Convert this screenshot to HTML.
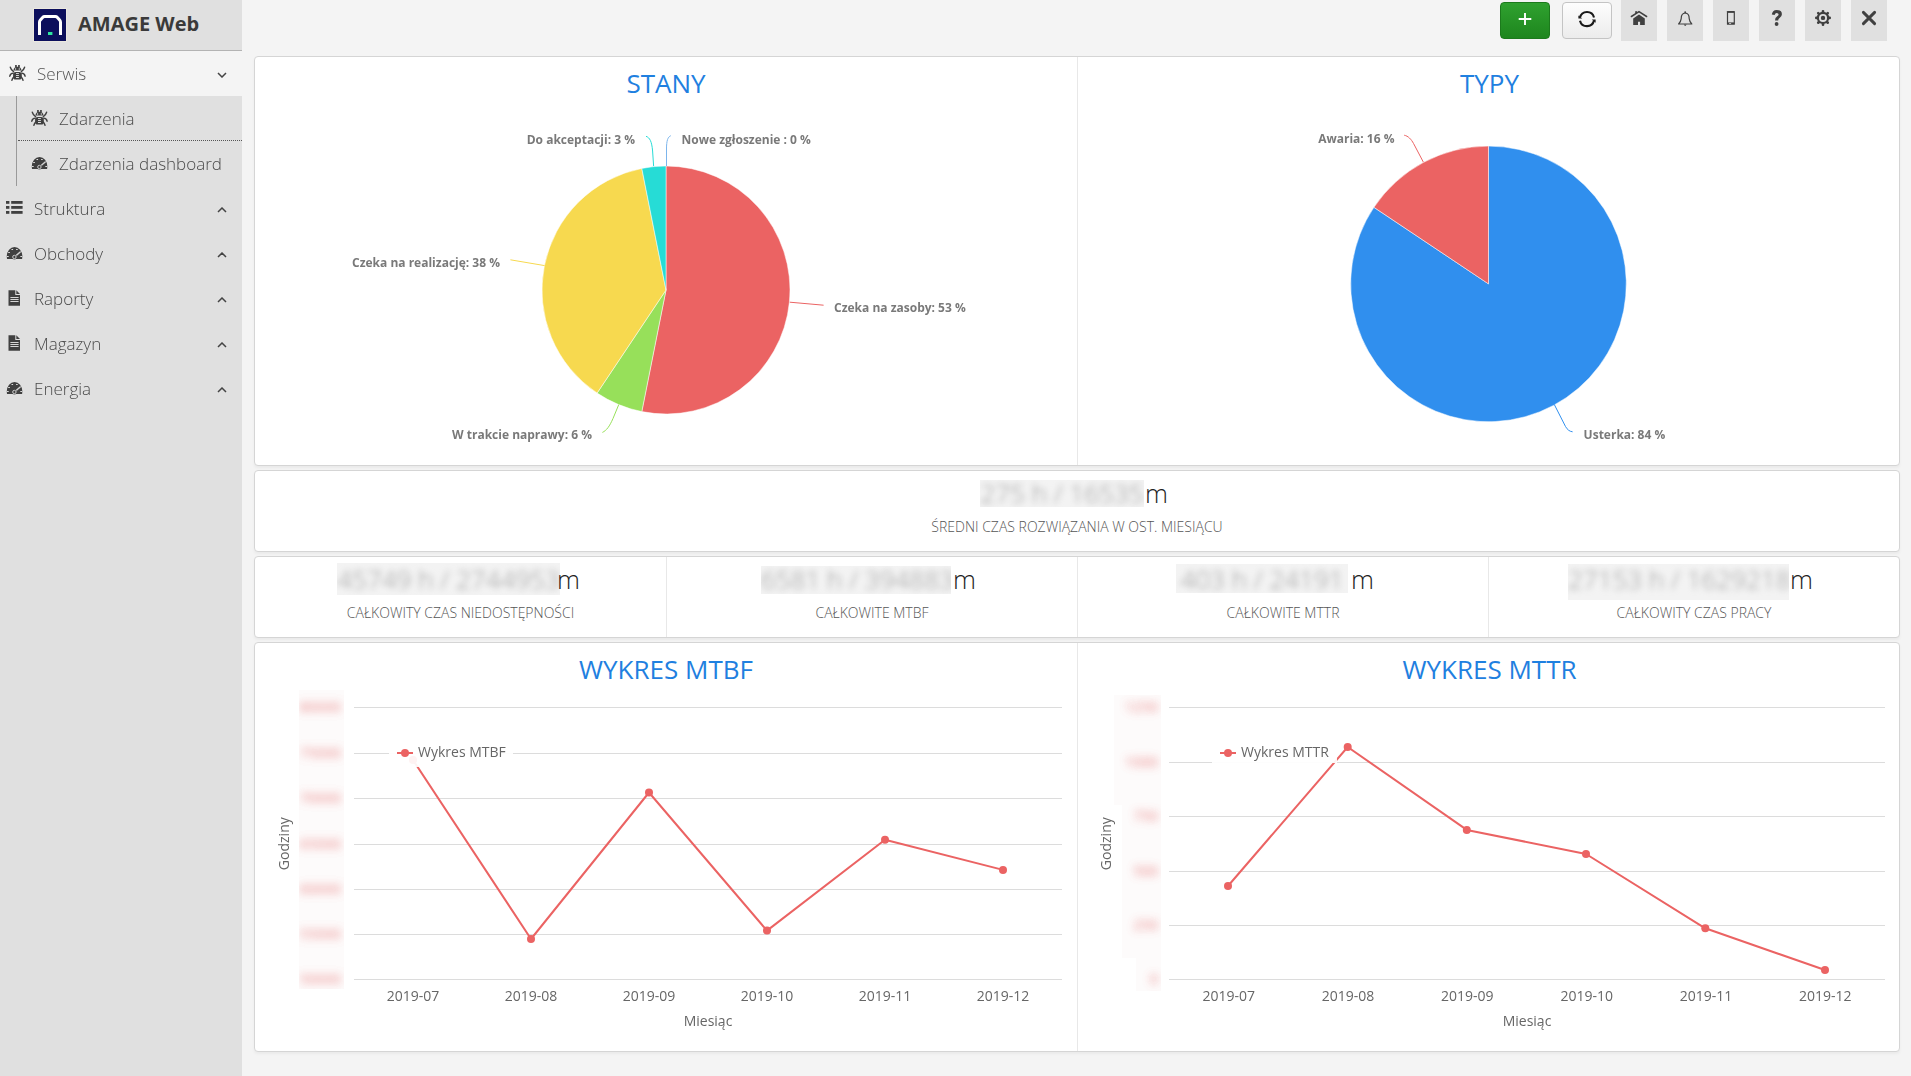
<!DOCTYPE html>
<html lang="pl">
<head>
<meta charset="utf-8">
<title>AMAGE Web - Zdarzenia dashboard</title>
<style>
*{box-sizing:border-box;margin:0;padding:0}
html,body{width:1911px;height:1076px;overflow:hidden}
body{background:#f4f4f4;font-family:"Open Sans","Liberation Sans",sans-serif;color:#333;position:relative}
.abs{position:absolute}
#side{position:absolute;left:0;top:0;width:242px;height:1076px;background:#e0e0e0}
#logo{position:absolute;left:34px;top:9px;width:32px;height:32px;background:#0c0f5c;outline:1px solid #ebe8df}
#brand{position:absolute;left:78px;top:9px;font-size:20px;font-weight:700;color:#3a3a3a;line-height:30px;white-space:nowrap}
#hdrline{position:absolute;left:0;top:50px;width:242px;height:1px;background:#b3b3b3}
#serwis{position:absolute;left:0;top:51px;width:242px;height:45px;background:#f4f4f4}
#subline{position:absolute;left:16px;top:96px;width:1px;height:90px;background:#9a9a9a}
#dots{position:absolute;left:18px;top:140px;width:224px;height:0;border-top:1px dotted #555}
.mi{position:absolute;font-size:17px;font-weight:300;color:#4a4a4a;white-space:nowrap;line-height:24px;will-change:transform}
.ic{position:absolute}
.chev{position:absolute;left:217px;width:10px;height:6px}
/* top buttons */
.gbtn{position:absolute;top:0;width:36px;height:41px;background:#e0e0e0}
#plus{position:absolute;left:1500px;top:2px;width:50px;height:37px;border-radius:4px;background:linear-gradient(#2fa12f,#1e861e);border:1px solid #1c7a1c}
#refr{position:absolute;left:1562px;top:2px;width:50px;height:37px;border-radius:4px;background:linear-gradient(#fdfdfd,#ececec);border:1px solid #c4c4c4}
/* panels */
.pnl{position:absolute;left:254px;width:1646px;background:#fff;border:1px solid #d5d5d5;border-radius:4px;box-shadow:0 2px 3px rgba(0,0,0,.045)}
.vdiv{position:absolute;width:1px;background:#e8e8e8}
.ttl{position:absolute;font-size:26px;color:#1f80e0;white-space:nowrap;line-height:30px;text-align:center}
.lbl{position:absolute;font-size:14px;font-weight:300;color:#555;white-space:nowrap;text-align:center;line-height:20px}
.bb{position:absolute;background:#f3f3f3;overflow:hidden;text-align:center;white-space:nowrap}
.bb span{position:absolute;left:0;right:0;line-height:32px;font-size:26px;font-weight:300;color:#9c9c9c;filter:blur(3.4px)}
.um{position:absolute;font-size:26px;font-weight:300;color:#222;line-height:34px;height:34px;white-space:nowrap}
</style>
</head>
<body>
<!-- SIDEBAR -->
<div id="side">
  <div id="logo">
    <svg width="32" height="32" viewBox="0 0 32 32" style="display:block">
      <path d="M5.5 26 V13.2 Q5.5 12 6.4 10.9 L8.6 8.4 Q9.4 7.5 10.6 7.5 H21.4 Q22.6 7.5 23.4 8.4 L25.6 10.9 Q26.5 12 26.5 13.2 V26" fill="none" stroke="#fff" stroke-width="3"/>
      <rect x="14" y="23" width="4.4" height="3" fill="#2ee6a0"/>
    </svg>
  </div>
  <div id="brand">AMAGE Web</div>
  <div id="hdrline"></div>
  <div id="serwis"></div>
  <div id="subline"></div>
  <div id="dots"></div>

  <!-- icons -->
  <svg class="ic" style="left:9px;top:65px" width="17" height="16" viewBox="0 0 17 16"><use href="#i-bug"/></svg>
  <div class="mi" style="left:37px;top:62px;color:#555">Serwis</div>
  <svg class="chev" style="top:72px" viewBox="0 0 10 6"><path d="M1 1 L5 5 L9 1" fill="none" stroke="#444" stroke-width="1.5"/></svg>

  <svg class="ic" style="left:31px;top:110px" width="17" height="16" viewBox="0 0 17 16"><use href="#i-bug"/></svg>
  <div class="mi" style="left:59px;top:107px">Zdarzenia</div>

  <svg class="ic" style="left:31px;top:156px" width="17" height="14" viewBox="0 0 17 14"><use href="#i-tach"/></svg>
  <div class="mi" style="left:59px;top:152px">Zdarzenia dashboard</div>

  <svg class="ic" style="left:6px;top:201px" width="17" height="13" viewBox="0 0 17 13"><use href="#i-list"/></svg>
  <div class="mi" style="left:34px;top:197px">Struktura</div>
  <svg class="chev" style="top:207px" viewBox="0 0 10 6"><path d="M1 5 L5 1 L9 5" fill="none" stroke="#444" stroke-width="1.5"/></svg>

  <svg class="ic" style="left:6px;top:246px" width="17" height="14" viewBox="0 0 17 14"><use href="#i-tach"/></svg>
  <div class="mi" style="left:34px;top:242px">Obchody</div>
  <svg class="chev" style="top:252px" viewBox="0 0 10 6"><path d="M1 5 L5 1 L9 5" fill="none" stroke="#444" stroke-width="1.5"/></svg>

  <svg class="ic" style="left:8px;top:290px" width="13" height="16" viewBox="0 0 13 16"><use href="#i-file"/></svg>
  <div class="mi" style="left:34px;top:287px">Raporty</div>
  <svg class="chev" style="top:297px" viewBox="0 0 10 6"><path d="M1 5 L5 1 L9 5" fill="none" stroke="#444" stroke-width="1.5"/></svg>

  <svg class="ic" style="left:8px;top:335px" width="13" height="16" viewBox="0 0 13 16"><use href="#i-file"/></svg>
  <div class="mi" style="left:34px;top:332px">Magazyn</div>
  <svg class="chev" style="top:342px" viewBox="0 0 10 6"><path d="M1 5 L5 1 L9 5" fill="none" stroke="#444" stroke-width="1.5"/></svg>

  <svg class="ic" style="left:6px;top:381px" width="17" height="14" viewBox="0 0 17 14"><use href="#i-tach"/></svg>
  <div class="mi" style="left:34px;top:377px">Energia</div>
  <svg class="chev" style="top:387px" viewBox="0 0 10 6"><path d="M1 5 L5 1 L9 5" fill="none" stroke="#444" stroke-width="1.5"/></svg>
</div>

<!-- icon defs -->
<svg width="0" height="0" style="position:absolute">
  <defs>
    <g id="i-bug" fill="#404040">
      <rect x="6.1" y="0" width="1.7" height="2.4"/><rect x="9.1" y="0" width="1.7" height="2.4"/>
      <path d="M4.4 5.6 Q4.6 1.8 8.45 1.8 Q12.3 1.8 12.5 5.6 Z"/>
      <rect x="4.1" y="7" width="8.7" height="7.5" rx="2.6"/>
      <g fill="#f2f2f2"><rect x="6.2" y="3.3" width="0.9" height="1.4"/><rect x="9.8" y="3.3" width="0.9" height="1.4"/>
      <rect x="7" y="8.1" width="2.9" height="0.8"/><rect x="7" y="10.2" width="2.9" height="0.8"/><rect x="7" y="12.1" width="2.9" height="0.9"/></g>
      <g fill="none" stroke="#404040" stroke-width="1.4" stroke-linecap="round">
        <path d="M1.3 2.2 Q2.2 5.2 4.6 6.6"/><path d="M15.6 2.2 Q14.7 5.2 12.3 6.6"/>
        <path d="M0.8 11.2 Q1.3 8.2 4.3 8.1"/><path d="M16.1 11.2 Q15.6 8.2 12.6 8.1"/>
        <path d="M2.9 15.3 Q3.5 13.2 4.7 12.1"/><path d="M14 15.3 Q13.4 13.2 12.2 12.1"/>
      </g>
    </g>
    <g id="i-tach">
      <path d="M1 13 L0.75 10.5 A7.8 9.6 0 0 1 16.35 10.5 L16.1 13 Z" fill="#404040"/>
      <g fill="#dedede">
        <rect x="5.5" y="3" width="1.6" height="1"/><rect x="10.1" y="3" width="1.6" height="1"/>
        <rect x="2.2" y="6" width="1.7" height="1"/><rect x="0.9" y="10" width="1.8" height="1"/><rect x="14.3" y="10" width="1.8" height="1"/>
      </g>
      <path d="M9.3 10.3 L14.2 6" stroke="#d2d2d2" stroke-width="1.5" stroke-linecap="round"/>
      <circle cx="8.4" cy="11" r="2.5" fill="#404040"/>
      <circle cx="8.4" cy="11" r="1.7" fill="none" stroke="#cfcfcf" stroke-width="1"/>
    </g>
    <g id="i-list" fill="#404040">
      <rect x="0" y="0" width="3.4" height="2.8"/><rect x="5.2" y="0" width="11.4" height="2.8"/>
      <rect x="0" y="5" width="3.4" height="2.8"/><rect x="5.2" y="5" width="11.4" height="2.8"/>
      <rect x="0" y="10" width="3.4" height="2.8"/><rect x="5.2" y="10" width="11.4" height="2.8"/>
    </g>
    <g id="i-file">
      <path d="M0.5 0.3 H7.3 V5 H12 V15.7 H0.5 Z" fill="#404040"/>
      <path d="M8.3 0.3 L12 4 H8.3 Z" fill="#404040"/>
      <g fill="#e8e8e8"><rect x="2.4" y="7" width="8.2" height="0.9"/><rect x="2.4" y="9" width="8.2" height="0.9"/><rect x="2.4" y="11" width="8.2" height="0.9"/></g>
    </g>
  </defs>
</svg>

<!-- TOP BUTTONS -->
<div id="plus"><svg width="48" height="35" viewBox="0 0 48 35" style="display:block"><path d="M24 9.9 V22.1 M17.7 16 H30.3" stroke="#fff" stroke-width="1.9"/></svg></div>
<div id="refr"><svg width="48" height="35" viewBox="0 0 48 35" style="display:block">
  <path d="M17 14.6 A7.2 7.2 0 0 1 31 14.4" fill="none" stroke="#1a1a1a" stroke-width="2.1"/>
  <path d="M31 17.6 A7.2 7.2 0 0 1 17 17.7" fill="none" stroke="#1a1a1a" stroke-width="2.1"/>
  <path d="M15.4 12.4 L19.2 15.6 H15.4 Z" fill="#1a1a1a"/><path d="M32.6 19.8 L28.8 16.6 H32.6 Z" fill="#1a1a1a"/>
</svg></div>
<div class="gbtn" style="left:1621px"><svg width="36" height="41" viewBox="0 0 36 41" style="display:block">
  <path d="M10.4 16.5 L18 11.6 L25.6 16.5" fill="none" stroke="#404040" stroke-width="1.5" stroke-linecap="round"/>
  <rect x="14.2" y="11.2" width="1.8" height="2.8" fill="#404040"/>
  <path d="M12.2 18.4 L18 14.5 L23.8 18.4 V24.9 H19.1 V21.7 H17 V24.9 H12.2 Z" fill="#404040"/>
</svg></div>
<div class="gbtn" style="left:1667px"><svg width="36" height="41" viewBox="0 0 36 41" style="display:block">
  <path d="M11.6 24 Q13.8 22 14.2 18.6 Q14.2 13.2 18.2 13 Q22.2 13.2 22.2 18.6 Q22.6 22 24.8 24 Z" fill="none" stroke="#404040" stroke-width="1.2" stroke-linejoin="round"/>
  <path d="M16.8 24.6 Q18.2 27.4 19.6 24.6 Z" fill="#404040"/><circle cx="18.2" cy="12.2" r="0.9" fill="#404040"/>
</svg></div>
<div class="gbtn" style="left:1713px"><svg width="36" height="41" viewBox="0 0 36 41" style="display:block">
  <rect x="13.9" y="10.9" width="8" height="13.9" rx="0.6" fill="#404040"/><rect x="15.1" y="12.9" width="5.6" height="9.5" fill="#e0e0e0"/>
  <rect x="16.1" y="23.1" width="2" height="0.8" fill="#e0e0e0"/>
</svg></div>
<div class="gbtn" style="left:1759px"><svg width="36" height="41" viewBox="0 0 36 41" style="display:block">
  <path d="M12.8 14.6 Q13.4 9.9 17.6 9.9 Q22.9 9.9 22.9 14.3 Q22.9 16.6 20.6 18 Q19.2 18.9 19.2 20.4 H16 Q16 17.6 18 16.4 Q19.6 15.5 19.6 14.4 Q19.6 12.9 17.7 12.9 Q16.1 12.9 15.6 15 Z" fill="#404040"/>
  <circle cx="17.6" cy="24" r="1.9" fill="#404040"/>
</svg></div>
<div class="gbtn" style="left:1805px"><svg width="36" height="41" viewBox="0 0 36 41" style="display:block">
  <g transform="translate(18 17.9)"><g fill="#404040">
    <circle r="6.2"/>
    <rect x="-1.3" y="-8" width="2.6" height="16" rx="1.2"/>
    <rect x="-1.3" y="-8" width="2.6" height="16" rx="1.2" transform="rotate(45)"/>
    <rect x="-1.3" y="-8" width="2.6" height="16" rx="1.2" transform="rotate(90)"/>
    <rect x="-1.3" y="-8" width="2.6" height="16" rx="1.2" transform="rotate(135)"/>
  </g><circle r="4" fill="#e0e0e0"/><circle r="2.2" fill="#404040"/></g>
</svg></div>
<div class="gbtn" style="left:1851px"><svg width="36" height="41" viewBox="0 0 36 41" style="display:block">
  <path d="M12.4 12.4 L23.6 23.6 M23.6 12.4 L12.4 23.6" stroke="#404040" stroke-width="2.9" stroke-linecap="round"/>
</svg></div>

<!-- PANELS -->
<div class="pnl" style="top:56px;height:410px"></div>
<div class="vdiv" style="left:1077px;top:57px;height:408px"></div>
<div class="pnl" style="top:470px;height:82px"></div>
<div class="pnl" style="top:556px;height:82px"></div>
<div class="vdiv" style="left:666px;top:557px;height:80px"></div>
<div class="vdiv" style="left:1077px;top:557px;height:80px"></div>
<div class="vdiv" style="left:1488px;top:557px;height:80px"></div>
<div class="pnl" style="top:642px;height:410px"></div>
<div class="vdiv" style="left:1077px;top:643px;height:408px"></div>

<!-- TITLES -->
<div class="ttl" style="left:255px;width:822px;top:68px">STANY</div>
<div class="ttl" style="left:1079px;width:821px;top:68px">TYPY</div>
<div class="ttl" style="left:255px;width:822px;top:654px">WYKRES MTBF</div>
<div class="ttl" style="left:1079px;width:821px;top:654px">WYKRES MTTR</div>

<!-- METRICS -->
<div class="bb" style="left:980px;top:480px;width:164px;height:27px"><span style="top:-3px">275 h / 16535</span></div>
<div class="um" style="left:1145px;top:476px">m</div>
<div class="lbl" style="left:255px;width:1644px;top:517px">ŚREDNI CZAS ROZWIĄZANIA W OST. MIESIĄCU</div>
<div class="bb" style="left:337px;top:563px;width:223px;height:32px"><span style="top:0px">45749 h / 2744953</span></div>
<div class="um" style="left:557px;top:562px">m</div>
<div class="lbl" style="left:255px;width:411px;top:603px">CAŁKOWITY CZAS NIEDOSTĘPNOŚCI</div>
<div class="bb" style="left:761px;top:566px;width:190px;height:28px"><span style="top:-3px">6581 h / 394883</span></div>
<div class="um" style="left:953px;top:562px">m</div>
<div class="lbl" style="left:667px;width:410px;top:603px">CAŁKOWITE MTBF</div>
<div class="bb" style="left:1176px;top:564px;width:172px;height:29px"><span style="top:-1px">403 h / 24191</span></div>
<div class="um" style="left:1351px;top:562px">m</div>
<div class="lbl" style="left:1078px;width:410px;top:603px">CAŁKOWITE MTTR</div>
<div class="bb" style="left:1568px;top:564px;width:221px;height:36px"><span style="top:-1px">27153 h / 1629218</span></div>
<div class="um" style="left:1790px;top:562px">m</div>
<div class="lbl" style="left:1489px;width:410px;top:603px">CAŁKOWITY CZAS PRACY</div>

<!-- CHARTS -->
<svg id="charts" class="abs" style="left:0;top:0" width="1911" height="1076" viewBox="0 0 1911 1076">
<defs><filter id="blr" x="-30%" y="-60%" width="160%" height="220%"><feGaussianBlur stdDeviation="4.2"/></filter></defs>
<path d="M666.00 290.00 L666.00 166.00 A124 124 0 1 1 641.81 411.62 Z" fill="#eb6363" stroke="#fff" stroke-width="0.5" stroke-linejoin="round"/>
<path d="M666.00 290.00 L641.81 411.62 A124 124 0 0 1 597.11 393.10 Z" fill="#97e05a" stroke="#fff" stroke-width="0.5" stroke-linejoin="round"/>
<path d="M666.00 290.00 L597.11 393.10 A124 124 0 0 1 641.81 168.38 Z" fill="#f7d94f" stroke="#fff" stroke-width="0.5" stroke-linejoin="round"/>
<path d="M666.00 290.00 L641.81 168.38 A124 124 0 0 1 666.00 166.00 Z" fill="#26dcd6" stroke="#fff" stroke-width="0.5" stroke-linejoin="round"/>
<path d="M653.6 166 L652.6 151 C651.8 141.5 649.8 137.6 646 136.3" fill="none" stroke="#26dcd6" stroke-width="1"/>
<path d="M666.5 166 L666.5 149 C666.5 140.5 667.8 137 670.8 135.7" fill="none" stroke="#7cb5ec" stroke-width="1"/>
<path d="M544.6 265.6 L510.4 259.8" fill="none" stroke="#f7d94f" stroke-width="1"/>
<path d="M789.8 302.2 L823.6 305.2" fill="none" stroke="#eb6363" stroke-width="1"/>
<path d="M618.8 404.5 L613 418.5 C609.5 426.5 606.5 430.5 602.4 432.4" fill="none" stroke="#97e05a" stroke-width="1"/>
<text x="635" y="144" text-anchor="end" font-family="Open Sans, Liberation Sans, sans-serif" font-size="12" font-weight="700" fill="#797979">Do akceptacji: 3 %</text>
<text x="681.5" y="143.5" font-family="Open Sans, Liberation Sans, sans-serif" font-size="12" font-weight="700" fill="#797979">Nowe zgłoszenie : 0 %</text>
<text x="500" y="267" text-anchor="end" font-family="Open Sans, Liberation Sans, sans-serif" font-size="12" font-weight="700" fill="#797979">Czeka na realizację: 38 %</text>
<text x="834" y="312" font-family="Open Sans, Liberation Sans, sans-serif" font-size="12" font-weight="700" fill="#797979">Czeka na zasoby: 53 %</text>
<text x="592" y="439.3" text-anchor="end" font-family="Open Sans, Liberation Sans, sans-serif" font-size="12" font-weight="700" fill="#797979">W trakcie naprawy: 6 %</text>
<path d="M1488.50 283.90 L1488.50 146.10 A137.8 137.8 0 1 1 1373.92 207.34 Z" fill="#308fee" stroke="#fff" stroke-width="0.5" stroke-linejoin="round"/>
<path d="M1488.50 283.90 L1373.92 207.34 A137.8 137.8 0 0 1 1488.50 146.10 Z" fill="#eb6363" stroke="#fff" stroke-width="0.5" stroke-linejoin="round"/>
<path d="M1423.3 162 L1413.6 143.6 C1411.2 139.2 1408.2 136 1404.2 135.2" fill="none" stroke="#eb6363" stroke-width="1"/>
<path d="M1554.2 404.3 L1565.5 426.5 C1567.5 430 1569.8 431.5 1572.6 431.8" fill="none" stroke="#308fee" stroke-width="1"/>
<text x="1394.5" y="142.8" text-anchor="end" font-family="Open Sans, Liberation Sans, sans-serif" font-size="12" font-weight="700" fill="#797979">Awaria: 16 %</text>
<text x="1583.6" y="438.5" font-family="Open Sans, Liberation Sans, sans-serif" font-size="12" font-weight="700" fill="#797979">Usterka: 84 %</text>
<path d="M354 707.5 H1062" stroke="#dcdcdc" stroke-width="1"/>
<path d="M354 753.5 H1062" stroke="#dcdcdc" stroke-width="1"/>
<path d="M354 798.5 H1062" stroke="#dcdcdc" stroke-width="1"/>
<path d="M354 844.5 H1062" stroke="#dcdcdc" stroke-width="1"/>
<path d="M354 889.5 H1062" stroke="#dcdcdc" stroke-width="1"/>
<path d="M354 934.5 H1062" stroke="#dcdcdc" stroke-width="1"/>
<path d="M354 979.5 H1062" stroke="#dcdcdc" stroke-width="1"/>
<text x="413.0" y="1001" text-anchor="middle" font-family="Open Sans, Liberation Sans, sans-serif" font-size="14" fill="#666">2019-07</text>
<text x="531.0" y="1001" text-anchor="middle" font-family="Open Sans, Liberation Sans, sans-serif" font-size="14" fill="#666">2019-08</text>
<text x="649.0" y="1001" text-anchor="middle" font-family="Open Sans, Liberation Sans, sans-serif" font-size="14" fill="#666">2019-09</text>
<text x="767.0" y="1001" text-anchor="middle" font-family="Open Sans, Liberation Sans, sans-serif" font-size="14" fill="#666">2019-10</text>
<text x="885.0" y="1001" text-anchor="middle" font-family="Open Sans, Liberation Sans, sans-serif" font-size="14" fill="#666">2019-11</text>
<text x="1003.0" y="1001" text-anchor="middle" font-family="Open Sans, Liberation Sans, sans-serif" font-size="14" fill="#666">2019-12</text>
<text x="708.0" y="1026" text-anchor="middle" font-family="Open Sans, Liberation Sans, sans-serif" font-size="14" fill="#666">Miesiąc</text>
<text x="289" y="843.7" transform="rotate(-90 289 843.7)" text-anchor="middle" font-family="Open Sans, Liberation Sans, sans-serif" font-size="14" fill="#666">Godziny</text>
<clipPath id="cpA"><path d="M299 690 h45 v299 h-45 Z"/></clipPath>
<g clip-path="url(#cpA)"><path d="M299 690 h45 v299 h-45 Z" fill="#fbf6f6" fill-opacity="0.45"/>
<g filter="url(#blr)" fill="#e25e5e" font-family="Open Sans, Liberation Sans, sans-serif" font-size="14.5" opacity="0.78">
<text x="341" y="712.0" text-anchor="end">80000</text>
<text x="341" y="758.0" text-anchor="end">75000</text>
<text x="341" y="803.0" text-anchor="end">70000</text>
<text x="341" y="849.0" text-anchor="end">65000</text>
<text x="341" y="894.0" text-anchor="end">60000</text>
<text x="341" y="939.0" text-anchor="end">55000</text>
<text x="341" y="984.0" text-anchor="end">50000</text>
</g></g>
<path d="M413.0 760.0 L531.0 939.0 L649.0 792.5 L767.0 930.6 L885.0 839.7 L1003.0 869.9" fill="none" stroke="#eb6363" stroke-width="2" stroke-linejoin="round" stroke-linecap="round"/>
<circle cx="413" cy="760" r="4" fill="#eb6363"/>
<circle cx="531" cy="939" r="4" fill="#eb6363"/>
<circle cx="649" cy="792.5" r="4" fill="#eb6363"/>
<circle cx="767" cy="930.6" r="4" fill="#eb6363"/>
<circle cx="885" cy="839.7" r="4" fill="#eb6363"/>
<circle cx="1003" cy="869.9" r="4" fill="#eb6363"/>
<rect x="389" y="739" width="124" height="28" fill="#fff" fill-opacity="0.92"/>
<path d="M397 753 H413" stroke="#eb6363" stroke-width="2"/><circle cx="405" cy="753" r="4" fill="#eb6363"/>
<text x="418" y="756.9" font-family="Open Sans, Liberation Sans, sans-serif" font-size="14" fill="#666">Wykres MTBF</text>
<path d="M1169 707.5 H1885" stroke="#dcdcdc" stroke-width="1"/>
<path d="M1169 762.5 H1885" stroke="#dcdcdc" stroke-width="1"/>
<path d="M1169 816.5 H1885" stroke="#dcdcdc" stroke-width="1"/>
<path d="M1169 871.5 H1885" stroke="#dcdcdc" stroke-width="1"/>
<path d="M1169 925.5 H1885" stroke="#dcdcdc" stroke-width="1"/>
<path d="M1169 979.5 H1885" stroke="#dcdcdc" stroke-width="1"/>
<text x="1228.7" y="1001" text-anchor="middle" font-family="Open Sans, Liberation Sans, sans-serif" font-size="14" fill="#666">2019-07</text>
<text x="1348.0" y="1001" text-anchor="middle" font-family="Open Sans, Liberation Sans, sans-serif" font-size="14" fill="#666">2019-08</text>
<text x="1467.3" y="1001" text-anchor="middle" font-family="Open Sans, Liberation Sans, sans-serif" font-size="14" fill="#666">2019-09</text>
<text x="1586.7" y="1001" text-anchor="middle" font-family="Open Sans, Liberation Sans, sans-serif" font-size="14" fill="#666">2019-10</text>
<text x="1706.0" y="1001" text-anchor="middle" font-family="Open Sans, Liberation Sans, sans-serif" font-size="14" fill="#666">2019-11</text>
<text x="1825.3" y="1001" text-anchor="middle" font-family="Open Sans, Liberation Sans, sans-serif" font-size="14" fill="#666">2019-12</text>
<text x="1527.0" y="1026" text-anchor="middle" font-family="Open Sans, Liberation Sans, sans-serif" font-size="14" fill="#666">Miesiąc</text>
<text x="1111" y="843.7" transform="rotate(-90 1111 843.7)" text-anchor="middle" font-family="Open Sans, Liberation Sans, sans-serif" font-size="14" fill="#666">Godziny</text>
<clipPath id="cpB"><path d="M1114 695 h47 v110 h-47 Z M1122 805 h39 v153 h-39 Z M1136 958 h25 v33 h-25 Z"/></clipPath>
<g clip-path="url(#cpB)"><path d="M1114 695 h47 v110 h-47 Z M1122 805 h39 v153 h-39 Z M1136 958 h25 v33 h-25 Z" fill="#fbf6f6" fill-opacity="0.45"/>
<g filter="url(#blr)" fill="#e25e5e" font-family="Open Sans, Liberation Sans, sans-serif" font-size="14.5" opacity="0.78">
<text x="1158" y="712.0" text-anchor="end">1250</text>
<text x="1158" y="767.0" text-anchor="end">1000</text>
<text x="1158" y="821.0" text-anchor="end">750</text>
<text x="1158" y="876.0" text-anchor="end">500</text>
<text x="1158" y="930.0" text-anchor="end">250</text>
<text x="1158" y="984.0" text-anchor="end">0</text>
</g></g>
<path d="M1228.0 886.0 L1347.7 747.0 L1466.8 829.9 L1586.0 854.0 L1705.3 928.3 L1825.0 970.0" fill="none" stroke="#eb6363" stroke-width="2" stroke-linejoin="round" stroke-linecap="round"/>
<circle cx="1228" cy="886" r="4" fill="#eb6363"/>
<circle cx="1347.7" cy="747" r="4" fill="#eb6363"/>
<circle cx="1466.8" cy="829.9" r="4" fill="#eb6363"/>
<circle cx="1586" cy="854" r="4" fill="#eb6363"/>
<circle cx="1705.3" cy="928.3" r="4" fill="#eb6363"/>
<circle cx="1825" cy="970" r="4" fill="#eb6363"/>
<rect x="1212" y="737" width="125" height="26" fill="#fff" fill-opacity="0.92"/>
<path d="M1220 753 H1236" stroke="#eb6363" stroke-width="2"/><circle cx="1228" cy="753" r="4" fill="#eb6363"/>
<text x="1241" y="756.9" font-family="Open Sans, Liberation Sans, sans-serif" font-size="14" fill="#666">Wykres MTTR</text>
</svg>
</body>
</html>
